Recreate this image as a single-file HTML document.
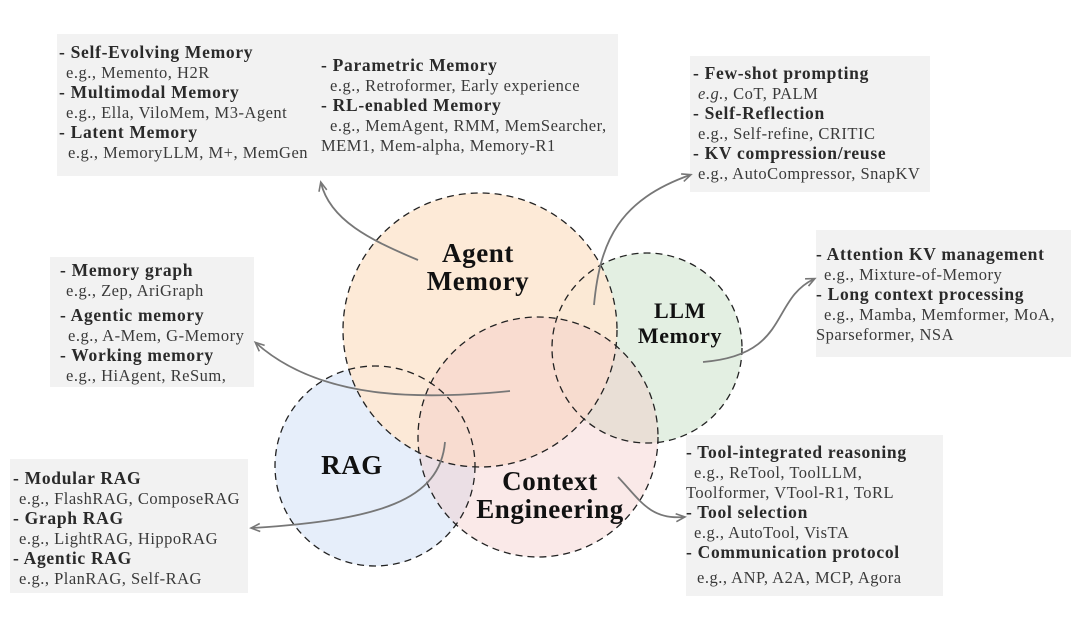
<!DOCTYPE html>
<html><head><meta charset="utf-8"><style>
html,body{margin:0;padding:0;background:#fff;}
svg{display:block;}
text{font-family:"Liberation Serif","DejaVu Serif",serif;font-size:16.5px;fill:#3a3a3a;letter-spacing:0.5px;}
.b{font-weight:bold;fill:#2a2a2a;font-size:17.5px;letter-spacing:0.7px;}
.t{font-weight:bold;fill:#111;font-size:27px;letter-spacing:0.6px;}
</style></head><body>
<svg width="1080" height="629" viewBox="0 0 1080 629" xmlns="http://www.w3.org/2000/svg">
<defs>
<marker id="a" markerWidth="12" markerHeight="12" refX="9" refY="5" orient="auto" markerUnits="userSpaceOnUse">
<path d="M1,1 L10,5 L1,9" fill="none" stroke="#777" stroke-width="1.6"/>
</marker>
</defs>
<rect x="57" y="34" width="561" height="142" fill="#f2f2f2"/>
<rect x="690" y="56" width="240" height="136" fill="#f2f2f2"/>
<rect x="816" y="230" width="255" height="127" fill="#f2f2f2"/>
<rect x="50" y="257" width="204" height="130" fill="#f2f2f2"/>
<rect x="10" y="459" width="238" height="134" fill="#f2f2f2"/>
<rect x="686" y="435" width="257" height="161" fill="#f2f2f2"/>

<circle cx="375" cy="466" r="100" fill="#e6eefa"/>
<circle cx="647" cy="348" r="95" fill="#e3efe2"/>
<circle cx="480" cy="330" r="137" fill="#fde8d4" fill-opacity="0.93"/>
<circle cx="538" cy="437" r="120" fill="#f3c9c6" fill-opacity="0.4"/>
<g fill="none" stroke="#222" stroke-width="1.3" stroke-dasharray="7,5">
<circle cx="375" cy="466" r="100"/>
<circle cx="647" cy="348" r="95"/>
<circle cx="480" cy="330" r="137"/>
<circle cx="538" cy="437" r="120"/>
</g>

<text class="t" x="478" y="262" text-anchor="middle">Agent</text>
<text class="t" x="478" y="290" text-anchor="middle">Memory</text>
<text class="t" x="680" y="318" text-anchor="middle" style="font-size:22px">LLM</text>
<text class="t" x="680" y="343" text-anchor="middle" style="font-size:22px">Memory</text>
<text class="t" x="352" y="474" text-anchor="middle">RAG</text>
<text class="t" x="550" y="490" text-anchor="middle">Context</text>
<text class="t" x="550" y="518" text-anchor="middle">Engineering</text>

<g fill="none" stroke="#777" stroke-width="1.8">
<path d="M418,260 C370,240 330,220 321,183" marker-end="url(#a)"/>
<path d="M594,305 C600,240 620,200 690,175" marker-end="url(#a)"/>
<path d="M703,362 C790,355 770,300 814,279" marker-end="url(#a)"/>
<path d="M510,391 C420,400 320,400 256,343" marker-end="url(#a)"/>
<path d="M445,442 C440,500 380,520 252,528" marker-end="url(#a)"/>
<path d="M618,477 C640,500 650,520 684,517" marker-end="url(#a)"/>
</g>

<text class="b" x="59" y="58">- Self-Evolving Memory</text>
<text x="66" y="78">e.g., Memento, H2R</text>
<text class="b" x="59" y="98">- Multimodal Memory</text>
<text x="66" y="118">e.g., Ella, ViloMem, M3-Agent</text>
<text class="b" x="59" y="138">- Latent Memory</text>
<text x="68" y="158">e.g., MemoryLLM, M+, MemGen</text>
<text class="b" x="321" y="71">- Parametric Memory</text>
<text x="330" y="91">e.g., Retroformer, Early experience</text>
<text class="b" x="321" y="111">- RL-enabled Memory</text>
<text x="330" y="131">e.g., MemAgent, RMM, MemSearcher,</text>
<text x="321" y="151">MEM1, Mem-alpha, Memory-R1</text>

<text class="b" x="693" y="79">- Few-shot prompting</text>
<text x="698" y="99"><tspan font-style="italic">e.g.</tspan>, CoT, PALM</text>
<text class="b" x="693" y="119">- Self-Reflection</text>
<text x="698" y="139">e.g., Self-refine, CRITIC</text>
<text class="b" x="693" y="159">- KV compression/reuse</text>
<text x="698" y="179">e.g., AutoCompressor, SnapKV</text>

<text class="b" x="816" y="260">- Attention KV management</text>
<text x="824" y="280">e.g., Mixture-of-Memory</text>
<text class="b" x="816" y="300">- Long context processing</text>
<text x="824" y="320">e.g., Mamba, Memformer, MoA,</text>
<text x="816" y="340">Sparseformer, NSA</text>

<text class="b" x="60" y="276">- Memory graph</text>
<text x="66" y="296">e.g., Zep, AriGraph</text>
<text class="b" x="60" y="321">- Agentic memory</text>
<text x="68" y="341">e.g., A-Mem, G-Memory</text>
<text class="b" x="60" y="361">- Working memory</text>
<text x="66" y="381">e.g., HiAgent, ReSum,</text>

<text class="b" x="13" y="484">- Modular RAG</text>
<text x="19" y="504">e.g., FlashRAG, ComposeRAG</text>
<text class="b" x="13" y="524">- Graph RAG</text>
<text x="19" y="544">e.g., LightRAG, HippoRAG</text>
<text class="b" x="13" y="564">- Agentic RAG</text>
<text x="19" y="584">e.g., PlanRAG, Self-RAG</text>

<text class="b" x="686" y="458">- Tool-integrated reasoning</text>
<text x="694" y="478">e.g., ReTool, ToolLLM,</text>
<text x="686" y="498">Toolformer, VTool-R1, ToRL</text>
<text class="b" x="686" y="518">- Tool selection</text>
<text x="694" y="538">e.g., AutoTool, VisTA</text>
<text class="b" x="686" y="558">- Communication protocol</text>
<text x="697" y="583">e.g., ANP, A2A, MCP, Agora</text>
</svg>
</body></html>
